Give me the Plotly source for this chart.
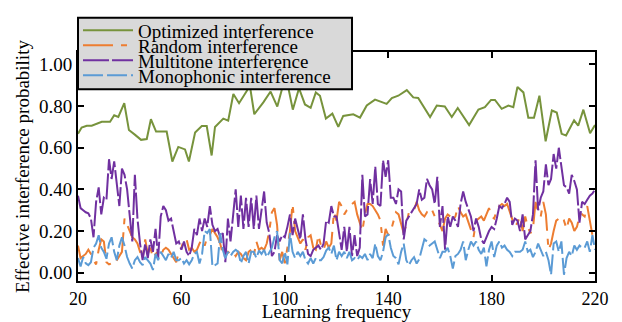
import plotly.graph_objects as go

# ---------------- data ----------------
freq = list(range(20, 221))

opt_x = [20, 21.4, 23.4, 25.3, 29.2, 32.4, 34.0, 35.6, 37.9, 39.7, 42.1, 44.4, 46.6, 48.2, 50.2,
         52.4, 54.3, 56.5, 58.8, 61.4, 62.9, 65.3, 67.9, 69.8, 71.7, 73.0, 76.2, 78.1, 80.1, 82.3,
         86.5, 88.2, 91.7, 94.5, 97.1, 99.0, 101.4, 103.1, 105.5, 107.8, 110.0, 112.0, 113.6, 115.9,
         118.4, 120.7, 122.6, 126.5, 129.1, 131.7, 134.9, 139.4, 141.4, 143.9, 147.2, 149.7, 151.6,
         156.2, 158.8, 161.9, 164.6, 166.9, 171.3, 174.9, 177.4, 179.8, 181.3, 183.9, 186.5, 188.4,
         190.0, 192.3, 194.2, 196.4, 198.5, 200.9, 203.3, 205.2, 207.1, 208.8, 211.9, 213.5, 215.5,
         218.1, 220]
opt_y = [0.667, 0.697, 0.706, 0.706, 0.725, 0.725, 0.756, 0.748, 0.814, 0.685, 0.662, 0.638, 0.642,
         0.737, 0.678, 0.678, 0.678, 0.534, 0.604, 0.592, 0.534, 0.673, 0.704, 0.704, 0.563, 0.700,
         0.740, 0.730, 0.858, 0.814, 0.897, 0.761, 0.818, 0.870, 0.798, 0.886, 0.886, 0.783, 0.886,
         0.808, 0.792, 0.866, 0.850, 0.740, 0.764, 0.700, 0.753, 0.761, 0.745, 0.803, 0.831, 0.811,
         0.839, 0.850, 0.877, 0.842, 0.839, 0.748, 0.803, 0.798, 0.748, 0.791, 0.709, 0.784, 0.795,
         0.830, 0.830, 0.787, 0.803, 0.795, 0.892, 0.866, 0.744, 0.744, 0.850, 0.631, 0.779, 0.769,
         0.667, 0.659, 0.732, 0.706, 0.783, 0.670, 0.709]

random_y = [0.13, 0.07, 0.08, 0.09, 0.11, 0.09, 0.06, 0.04, 0.11, 0.16,
            0.15, 0.05, 0.04, 0.045, 0.04, 0.06, 0.075, 0.10, 0.26, 0.23,
            0.20, 0.17, 0.16, 0.14, 0.10, 0.07, 0.16, 0.09, 0.12, 0.07,
            0.09, 0.10, 0.08, 0.11, 0.12, 0.11, 0.09, 0.07, 0.05, 0.10,
            0.12, 0.16, 0.16, 0.11, 0.12, 0.10, 0.11, 0.14, 0.16, 0.13,
            0.17, 0.18, 0.21, 0.19, 0.17, 0.14, 0.09, 0.08, 0.10, 0.09,
            0.10, 0.08, 0.10, 0.09, 0.07, 0.06, 0.10, 0.11, 0.08, 0.15,
            0.11, 0.12, 0.11, 0.14, 0.20, 0.29, 0.31, 0.23, 0.06, 0.10,
            0.045, 0.12, 0.20, 0.33, 0.20, 0.17, 0.14, 0.16, 0.11, 0.17,
            0.18, 0.12, 0.11, 0.18, 0.13, 0.11, 0.15, 0.12, 0.14, 0.29,
            0.25, 0.34, 0.32, 0.28, 0.30, 0.31, 0.33, 0.34, 0.28, 0.24,
            0.20, 0.28, 0.33, 0.33, 0.32, 0.30, 0.28, 0.25, 0.13, 0.21,
            0.18, 0.20, 0.24, 0.29, 0.28, 0.23, 0.19, 0.23, 0.29, 0.30,
            0.30, 0.34, 0.30, 0.28, 0.27, 0.29, 0.28, 0.30, 0.27, 0.26,
            0.23, 0.20, 0.26, 0.28, 0.27, 0.25, 0.27, 0.32, 0.29, 0.27,
            0.28, 0.24, 0.20, 0.17, 0.25, 0.26, 0.27, 0.25, 0.28, 0.31,
            0.27, 0.26, 0.30, 0.32, 0.33, 0.32, 0.33, 0.29, 0.25, 0.22,
            0.24, 0.27, 0.20, 0.27, 0.22, 0.19, 0.21, 0.34, 0.29, 0.27,
            0.34, 0.28, 0.11, 0.14, 0.20, 0.25, 0.26, 0.24, 0.25, 0.21,
            0.26, 0.24, 0.20, 0.22, 0.27, 0.28, 0.27, 0.32, 0.25, 0.18,
            0.19]

multitone_y = [0.37, 0.31, 0.30, 0.29, 0.285, 0.26, 0.17, 0.34, 0.41, 0.28,
               0.36, 0.35, 0.545, 0.45, 0.535, 0.42, 0.32, 0.50, 0.47, 0.40,
               0.27, 0.15, 0.47, 0.26, 0.14, 0.06, 0.14, 0.07, 0.16, 0.10,
               0.21, 0.07, 0.27, 0.32, 0.30, 0.25, 0.26, 0.20, 0.14, 0.15,
               0.11, 0.15, 0.10, 0.08, 0.12, 0.21, 0.18, 0.26, 0.20, 0.26,
               0.22, 0.32, 0.23, 0.20, 0.21, 0.17, 0.19, 0.05, 0.26, 0.15,
               0.26, 0.40, 0.22, 0.37, 0.21, 0.36, 0.22, 0.36, 0.21, 0.37,
               0.21, 0.30, 0.39, 0.24, 0.19, 0.08, 0.10, 0.18, 0.15, 0.18,
               0.17, 0.22, 0.28, 0.18, 0.26, 0.21, 0.16, 0.28, 0.16, 0.09,
               0.08, 0.11, 0.12, 0.13, 0.11, 0.14, 0.25, 0.24, 0.32, 0.27,
               0.27, 0.19, 0.11, 0.22, 0.10, 0.22, 0.08, 0.18, 0.08, 0.12,
               0.47, 0.27, 0.28, 0.45, 0.33, 0.51, 0.33, 0.32, 0.54, 0.46,
               0.54, 0.36, 0.36, 0.33, 0.40, 0.39, 0.16, 0.25, 0.27, 0.29,
               0.31, 0.33, 0.40, 0.35, 0.36, 0.45, 0.42, 0.40, 0.33, 0.46,
               0.22, 0.32, 0.11, 0.27, 0.22, 0.27, 0.25, 0.22, 0.33, 0.39,
               0.34, 0.30, 0.27, 0.20, 0.26, 0.22, 0.16, 0.14, 0.17, 0.20,
               0.22, 0.21, 0.26, 0.32, 0.31, 0.33, 0.36, 0.34, 0.23, 0.26,
               0.25, 0.20, 0.28, 0.16, 0.18, 0.20, 0.28, 0.54, 0.30, 0.36,
               0.39, 0.52, 0.42, 0.45, 0.57, 0.50, 0.60, 0.52, 0.42, 0.41,
               0.38, 0.47, 0.44, 0.40, 0.24, 0.34, 0.33, 0.35, 0.37, 0.38,
               0.40]

mono_y = [0.07, 0.03, 0.075, 0.045, 0.036, 0.05, 0.12, 0.14, 0.18, 0.12,
          0.10, 0.067, 0.14, 0.17, 0.10, 0.06, 0.13, 0.17, 0.13, 0.075,
          0.044, 0.02, 0.06, 0.075, 0.05, 0.036, 0.075, 0.06, 0.044, 0.013,
          0.09, 0.06, 0.10, 0.08, 0.06, 0.09, 0.07, 0.10, 0.06, 0.06,
          0.07, 0.044, 0.06, 0.04, 0.06, 0.09, 0.10, 0.044, 0.09, 0.20,
          0.19, 0.21, 0.03, 0.036, 0.044, 0.19, 0.11, 0.07, 0.10, 0.08,
          0.10, 0.11, 0.10, 0.044, 0.08, 0.10, 0.044, 0.10, 0.10, 0.07,
          0.106, 0.09, 0.11, 0.075, 0.10, 0.12, 0.17, 0.20, 0.06, 0.045,
          0.10, 0.04, 0.19, 0.10, 0.07, 0.10, 0.08, 0.10, 0.06, 0.044,
          0.07, 0.044, 0.07, 0.06, 0.06, 0.075, 0.106, 0.12, 0.09, 0.13,
          0.06, 0.10, 0.08, 0.10, 0.07, 0.10, 0.06, 0.07, 0.06, 0.08,
          0.07, 0.09, 0.06, 0.09, 0.07, 0.14, 0.08, 0.06, 0.10, 0.17,
          0.185, 0.12, 0.08, 0.07, 0.04, 0.10, 0.14, 0.06, 0.036, 0.06,
          0.075, 0.044, 0.065, 0.12, 0.16, 0.15, 0.13, 0.14, 0.15, 0.11,
          0.07, 0.10, 0.10, 0.12, 0.08, 0.02, 0.08, 0.09, 0.11, 0.15,
          0.06, 0.11, 0.15, 0.13, 0.15, 0.11, 0.09, 0.12, 0.03, 0.11,
          0.15, 0.075, 0.13, 0.15, 0.12, 0.13, 0.11, 0.10, 0.08, 0.10,
          0.10, 0.10, 0.11, 0.15, 0.10, 0.11, 0.075, 0.10, 0.14, 0.11,
          0.08, 0.10, 0.06, -0.01, 0.14, 0.15, 0.10, 0.15, -0.01, 0.07,
          0.10, 0.08, 0.13, 0.11, 0.13, 0.12, 0.12, 0.15, 0.10, 0.18,
          0.11]

x_ticks = [20, 60, 100, 140, 180, 220]
y_ticks = [0.0, 0.2, 0.4, 0.6, 0.8, 1.0]

names = ["Optimized interference", "Random interference",
         "Multitone interference", "Monophonic interference"]
colors = ["#77933c", "#ed7d31", "#7030a0", "#5b9bd5"]

FONT = "Liberation Serif, Times New Roman, serif"

fig = go.Figure()
fig.add_trace(go.Scatter(x=opt_x, y=opt_y, mode="lines", name=names[0],
                         line=dict(color=colors[0], width=2), legend="legend",
                         showlegend=True))
fig.add_trace(go.Scatter(x=freq, y=random_y, mode="lines", name=names[1],
                         line=dict(color=colors[1], width=2, dash="30px,8px,6px,8px"),
                         legend="legend2", showlegend=True))
fig.add_trace(go.Scatter(x=freq, y=multitone_y, mode="lines", name=names[2],
                         line=dict(color=colors[2], width=2, dash="26px,3px"),
                         legend="legend3", showlegend=True))
fig.add_trace(go.Scatter(x=freq, y=mono_y, mode="lines", name=names[3],
                         line=dict(color=colors[3], width=2, dash="20px,4px"),
                         legend="legend4", showlegend=True))

# plot area: px 78..595 horizontally, 47..281 vertically
row_y = [1.094, 1.0286, 0.9632, 0.8979]
leg_common = dict(x=0.0, xanchor="left", yanchor="middle", bgcolor="rgba(0,0,0,0)",
                  borderwidth=0, font=dict(family=FONT, size=19, color="black"),
                  itemwidth=50, visible=True)

fig.update_layout(
    width=622, height=322, autosize=False,
    margin=dict(l=78, r=27, t=47, b=41),
    paper_bgcolor="white", plot_bgcolor="white",
    font=dict(family=FONT, size=19, color="black"),
    showlegend=True,
    legend=dict(y=row_y[0], **leg_common),
    legend2=dict(y=row_y[1], **leg_common),
    legend3=dict(y=row_y[2], **leg_common),
    legend4=dict(y=row_y[3], **leg_common),
    shapes=[dict(type="rect", xref="paper", yref="paper", x0=0.0, x1=0.53,
                 y0=0.8376, y1=1.1496, fillcolor="#d9d9d9",
                 line=dict(color="black", width=2), layer="above")],
)

axis_common = dict(showline=True, linewidth=2, linecolor="black", mirror="ticks",
                   ticks="inside", ticklen=6, tickwidth=2, tickcolor="black",
                   showgrid=False, zeroline=False, automargin=False)

fig.update_xaxes(range=[20, 220], tickvals=x_ticks,
                 tickfont=dict(family=FONT, size=18, color="black"),
                 title=dict(text="Learning frequency", standoff=6,
                            font=dict(family=FONT, size=19)),
                 **axis_common)
fig.update_yaxes(range=[-0.04, 1.06], tickvals=y_ticks, tickformat=".2f",
                 tickfont=dict(family=FONT, size=19, color="black"),
                 title=dict(text="Effective interference probability", standoff=4,
                            font=dict(family=FONT, size=19)),
                 **axis_common)

fig.write_html("out.html")
